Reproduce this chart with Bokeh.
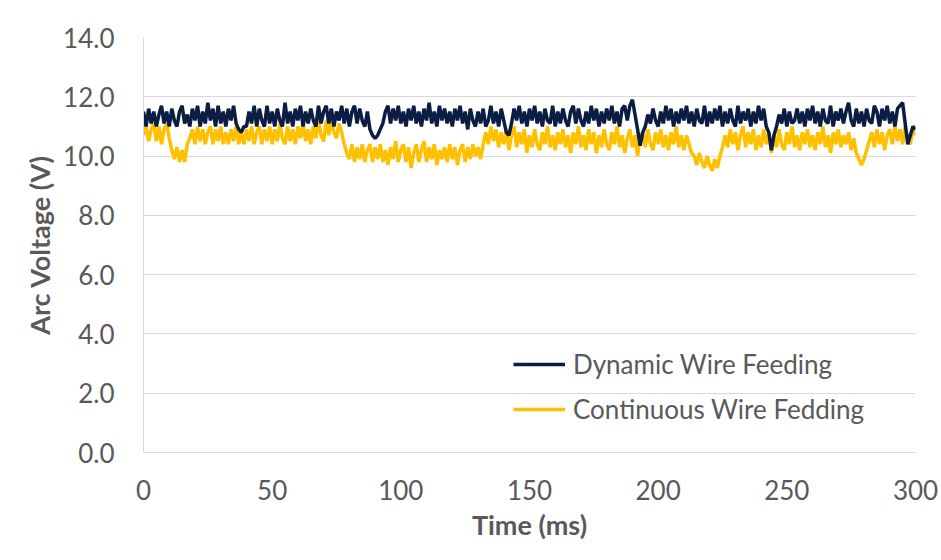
from bokeh.plotting import figure
from bokeh.models import FixedTicker, PrintfTickFormatter, Legend, LegendItem, Range1d
from bokeh.embed import file_html
from bokeh.resources import INLINE

time_ms = list(range(0, 301))

dynamic_feeding = [
    11.5, 11.0, 11.6, 11.1, 11.5, 11.0, 11.4, 11.7, 11.1, 11.5,
    11.0, 11.6, 11.2, 11.0, 11.5, 11.7, 11.1, 11.4, 11.0, 11.6,
    11.2, 11.7, 11.0, 11.5, 11.1, 11.8, 11.2, 11.6, 11.0, 11.7,
    11.1, 11.5, 11.0, 11.6, 11.2, 11.7, 11.1, 10.9, 10.8, 11.0,
    11.0, 11.5, 11.1, 11.7, 11.0, 11.6, 11.2, 11.0, 11.7, 11.1,
    11.5, 11.0, 11.6, 11.2, 11.0, 11.8, 11.1, 11.5, 11.0, 11.6,
    11.2, 11.7, 11.0, 11.5, 11.1, 11.6, 11.2, 11.0, 11.7, 11.1,
    11.5, 11.7, 11.1, 11.6, 11.0, 11.5, 11.2, 11.7, 11.1, 11.6,
    11.0, 11.5, 11.7, 11.1, 11.6, 11.2, 11.0, 11.5, 10.9, 10.7,
    10.6, 10.7, 10.9, 11.1, 11.5, 11.7, 11.1, 11.6, 11.2, 11.7,
    11.1, 11.5, 11.0, 11.6, 11.2, 11.7, 11.1, 11.5, 11.0, 11.6,
    11.2, 11.8, 11.1, 11.5, 11.0, 11.7, 11.2, 11.6, 11.1, 11.5,
    11.0, 11.6, 11.2, 11.7, 11.1, 11.5, 10.9, 11.6, 11.2, 11.0,
    11.5, 11.1, 11.6, 11.0, 11.2, 11.7, 11.1, 11.5, 11.0, 11.6,
    11.2, 10.8, 10.7, 11.1, 11.6, 11.2, 11.7, 11.1, 11.5, 11.0,
    11.6, 11.2, 11.7, 11.1, 11.5, 11.0, 11.6, 11.2, 11.1, 11.7,
    11.0, 11.5, 11.1, 11.6, 11.2, 11.0, 11.5, 11.7, 11.1, 11.6,
    11.2, 11.0, 11.5, 11.1, 11.7, 11.2, 11.6, 11.0, 11.5, 11.1,
    11.6, 11.2, 11.7, 11.1, 11.5, 11.0, 11.6, 11.7, 11.2, 11.7,
    11.9, 11.4, 10.9, 10.35, 10.8, 11.0, 11.4, 11.1, 11.6, 11.2,
    11.0, 11.5, 11.1, 11.7, 11.2, 11.6, 11.0, 11.5, 11.1, 11.6,
    11.2, 11.7, 11.1, 11.5, 11.0, 11.6, 11.2, 11.1, 11.7, 11.0,
    11.5, 11.1, 11.6, 11.2, 11.7, 11.0, 11.5, 11.1, 11.6, 11.2,
    11.0, 11.7, 11.1, 11.5, 11.2, 11.6, 11.0, 11.5, 11.1, 11.7,
    11.2, 11.6, 11.0, 10.8, 10.2, 10.7, 11.0, 11.4, 11.1, 11.6,
    11.0, 11.5, 11.1, 11.2, 11.6, 11.1, 11.5, 11.0, 11.6, 11.2,
    11.7, 11.1, 11.5, 11.0, 11.6, 11.2, 11.1, 11.7, 11.0, 11.5,
    11.2, 11.6, 11.1, 11.5, 11.8, 11.2, 11.0, 11.6, 11.1, 11.5,
    11.0, 11.6, 11.2, 11.1, 11.7, 11.5, 11.0, 11.6, 11.2, 11.7,
    11.1, 11.5, 11.0, 11.6, 11.7, 11.8, 11.1, 10.4, 10.7, 11.0,
    10.9,
]

continuous_feeding = [
    10.7, 11.0, 10.5, 10.9, 11.1, 10.5, 11.0, 10.4, 10.9, 11.1,
    10.6, 10.2, 9.9, 10.3, 9.8, 10.2, 9.8, 10.4, 10.6, 10.9,
    10.4, 11.0, 10.5, 10.9, 10.4, 10.8, 11.0, 10.4, 10.9, 10.5,
    11.0, 10.4, 10.8, 10.4, 10.9, 10.5, 11.0, 10.4, 10.8, 10.4,
    10.9, 10.5, 11.0, 10.4, 10.8, 11.0, 10.4, 10.9, 10.5, 11.0,
    10.4, 10.9, 10.5, 11.1, 10.6, 10.4, 11.0, 10.5, 10.9, 10.4,
    11.0, 10.6, 11.1, 10.5, 10.9, 10.4, 11.0, 10.6, 11.2, 10.7,
    10.5, 11.2, 10.7, 11.2, 10.8, 10.6, 11.1, 10.8, 10.4, 10.1,
    9.9, 10.4, 9.8, 10.3, 9.9, 10.4, 9.8, 10.2, 10.4, 9.8,
    10.3, 9.9, 10.4, 9.8, 10.2, 9.7, 10.3, 9.9, 10.5, 9.8,
    10.2, 10.4, 9.8, 10.3, 9.6, 10.1, 10.4, 9.8, 10.2, 10.5,
    9.8, 10.3, 9.9, 10.4, 9.7, 10.2, 9.9, 10.3, 9.8, 10.4,
    9.9, 10.3, 9.7, 10.2, 10.4, 9.8, 10.3, 9.9, 10.4, 10.0,
    10.3, 9.9, 10.4, 10.8, 10.4, 11.0, 10.5, 10.9, 10.3, 10.8,
    10.4, 10.9, 10.2, 10.7, 11.0, 10.3, 10.8, 10.4, 10.9, 10.1,
    10.7, 10.3, 10.9, 10.4, 10.2, 10.8, 10.4, 11.0, 10.3, 10.7,
    10.2, 10.8, 10.4, 10.9, 10.3, 10.7, 10.1, 10.8, 10.4, 11.0,
    10.3, 10.7, 10.2, 10.9, 10.4, 10.8, 10.1, 10.7, 10.3, 10.9,
    10.4, 10.2, 10.8, 10.4, 11.0, 10.3, 10.7, 10.1, 10.6, 10.9,
    10.3, 10.7, 10.0, 10.6, 10.8, 10.3, 10.9, 10.4, 10.2, 10.8,
    10.4, 10.9, 10.3, 10.7, 10.2, 10.8, 10.4, 11.0, 10.3, 10.7,
    10.2, 10.7, 10.4, 10.1, 10.0, 9.7, 10.1, 9.8, 9.6, 10.0,
    9.7, 9.5, 9.9, 9.6, 10.0, 10.3, 10.7, 10.3, 10.9, 10.4,
    10.8, 10.2, 10.7, 11.0, 10.3, 10.8, 10.4, 10.9, 10.2, 10.7,
    10.3, 10.9, 10.4, 10.8, 10.1, 10.7, 10.3, 10.9, 10.4, 10.2,
    10.8, 10.4, 11.0, 10.3, 10.7, 10.2, 10.8, 10.4, 10.9, 10.3,
    10.7, 10.2, 10.8, 10.4, 11.0, 10.3, 10.7, 10.1, 10.8, 10.4,
    10.9, 10.3, 10.7, 10.4, 10.8, 10.2, 10.6, 10.1, 9.9, 9.7,
    9.9, 10.2, 10.5, 10.8, 10.3, 10.9, 10.4, 10.8, 10.2, 10.7,
    10.9, 10.4, 11.0, 10.5, 10.9, 10.4, 11.0, 10.6, 10.4, 10.9,
    10.7,
]

x_ticks = [0, 50, 100, 150, 200, 250, 300]
y_ticks = [0, 2, 4, 6, 8, 10, 12, 14]
series_names = ["Dynamic Wire Feeding", "Continuous Wire Fedding"]

NAVY = "#0b1d42"
GOLD = "#ffc000"
TEXT = "#595959"
GRID = "#d9d9d9"
FONT = "Lato"

p = figure(width=941, height=560, output_backend="svg", toolbar_location=None,
           x_range=Range1d(0, 300), y_range=Range1d(0, 14),
           min_border_left=143, min_border_right=26, min_border_top=37, min_border_bottom=108)
p.outline_line_color = None
p.background_fill_color = "white"
p.border_fill_color = "white"

r_cont = p.line(time_ms, continuous_feeding, line_color=GOLD, line_width=3.5)
r_dyn = p.line(time_ms, dynamic_feeding, line_color=NAVY, line_width=3.5)

p.xgrid.visible = False
p.ygrid.ticker = FixedTicker(ticks=y_ticks)
p.ygrid.grid_line_color = GRID
p.ygrid.grid_line_width = 1

for ax in (p.xaxis[0], p.yaxis[0]):
    ax.axis_line_color = GRID
    ax.axis_line_width = 1
    ax.major_tick_line_color = None
    ax.minor_tick_line_color = None
    ax.major_label_text_font = FONT
    ax.major_label_text_font_size = "26px"
    ax.major_label_text_color = TEXT
    ax.axis_label_text_font = FONT
    ax.axis_label_text_font_size = "27px"
    ax.axis_label_text_font_style = "bold"
    ax.axis_label_text_color = TEXT

p.xaxis.ticker = FixedTicker(ticks=x_ticks)
p.yaxis.ticker = FixedTicker(ticks=y_ticks)
p.yaxis.formatter = PrintfTickFormatter(format="%.1f")
p.xaxis.axis_label = "Time (ms)"
p.yaxis.axis_label = "Arc Voltage (V)"
p.xaxis.major_label_standoff = 21
p.yaxis.major_label_standoff = 23
p.xaxis.axis_label_standoff = 5
p.yaxis.axis_label_standoff = 4

legend = Legend(items=[LegendItem(label=series_names[0], renderers=[r_dyn]),
                       LegendItem(label=series_names[1], renderers=[r_cont])],
                location=(370, 27))
legend.background_fill_alpha = 0
legend.border_line_color = None
legend.padding = 0
legend.margin = 0
legend.spacing = 13
legend.glyph_width = 52
legend.glyph_height = 30
legend.label_height = 30
legend.label_standoff = 8
legend.label_text_font = FONT
legend.label_text_font_size = "26px"
legend.label_text_color = TEXT
p.add_layout(legend)

open("out.html", "w").write(file_html(p, INLINE))
